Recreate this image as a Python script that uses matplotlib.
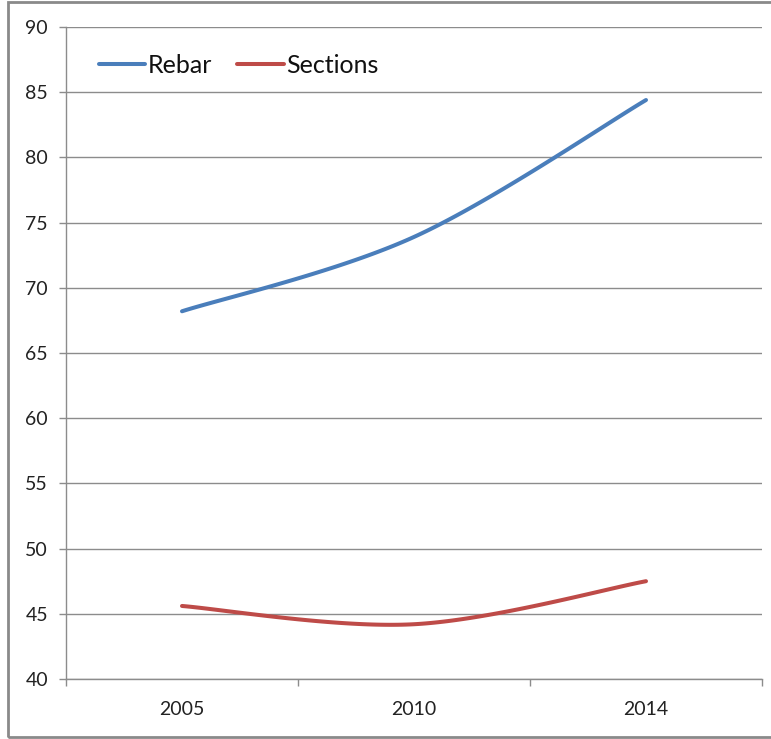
import numpy as np
import matplotlib.pyplot as plt
from matplotlib.patches import Rectangle

plt.rcParams['font.family'] = ['Lato', 'DejaVu Sans']

years = ["2005", "2010", "2014"]
rebar = [68.2, 73.9, 84.4]
sections = [45.6, 44.2, 47.5]
y_ticks = [40, 45, 50, 55, 60, 65, 70, 75, 80, 85, 90]

BLUE = "#4a7ebb"
RED = "#be4b48"
GRID = "#8c8c8c"


def smooth(xs, ys, n=60):
    # bezier smoothing through every point, like the office "smoothed line"
    pts = np.column_stack([xs, ys]).astype(float)
    padded = np.vstack([pts[0], pts, pts[-1]])
    out = []
    for i in range(len(pts) - 1):
        p0, p1, p2, p3 = padded[i], padded[i + 1], padded[i + 2], padded[i + 3]
        c1 = p1 + (p2 - p0) / 6.0
        c2 = p2 - (p3 - p1) / 6.0
        t = np.linspace(0, 1, n)[:, None]
        seg = ((1 - t) ** 3) * p1 + 3 * ((1 - t) ** 2) * t * c1 + 3 * (1 - t) * t ** 2 * c2 + t ** 3 * p2
        out.append(seg if i == 0 else seg[1:])
    out = np.vstack(out)
    return out[:, 0], out[:, 1]


fig = plt.figure(figsize=(7.71, 7.39), dpi=100)
ax = fig.add_axes([66 / 771, 1 - 679 / 739, 696 / 771, 652 / 739])

x = np.arange(len(years))
bx, by = smooth(x, rebar)
rx, ry = smooth(x, sections)
ax.plot(bx, by, color=BLUE, lw=2.9, solid_capstyle="round", label="Rebar")
ax.plot(rx, ry, color=RED, lw=2.9, solid_capstyle="round", label="Sections")

ax.set_xlim(-0.5, len(years) - 0.5)
ax.set_ylim(40, 90)
ax.set_yticks(y_ticks)
ax.yaxis.grid(True, color=GRID, lw=1.0)
ax.set_axisbelow(True)

# category boundaries carry the tick marks, labels sit in the middle
ax.set_xticks(np.arange(-0.5, len(years), 1.0))
ax.set_xticklabels([])
ax.set_xticks(x, minor=True)
ax.set_xticklabels(years, minor=True)
ax.tick_params(axis="x", which="major", length=5, color=GRID, width=1)
ax.tick_params(axis="x", which="minor", length=0, pad=16, labelsize=14, labelcolor="#222222")
ax.tick_params(axis="y", length=5, color=GRID, width=1, pad=8, labelsize=14, labelcolor="#222222")

for side in ("top", "right"):
    ax.spines[side].set_visible(False)
for side in ("left", "bottom"):
    ax.spines[side].set_color(GRID)
    ax.spines[side].set_linewidth(1.0)

leg = ax.legend(loc="upper left", bbox_to_anchor=(0.047, 0.959), ncol=2, frameon=False,
                fontsize=18, handlelength=1.85, handletextpad=0.12, columnspacing=1.0,
                borderpad=0, borderaxespad=0)
for t in leg.get_texts():
    t.set_color("#111111")

# outer chart border
fig.patches.append(Rectangle((8 / 771, 2 / 739), 1.2, 735 / 739, transform=fig.transFigure,
                             fill=False, edgecolor="#8a8a8a", lw=2.0, zorder=0))

fig.savefig("out.png", dpi=100)
